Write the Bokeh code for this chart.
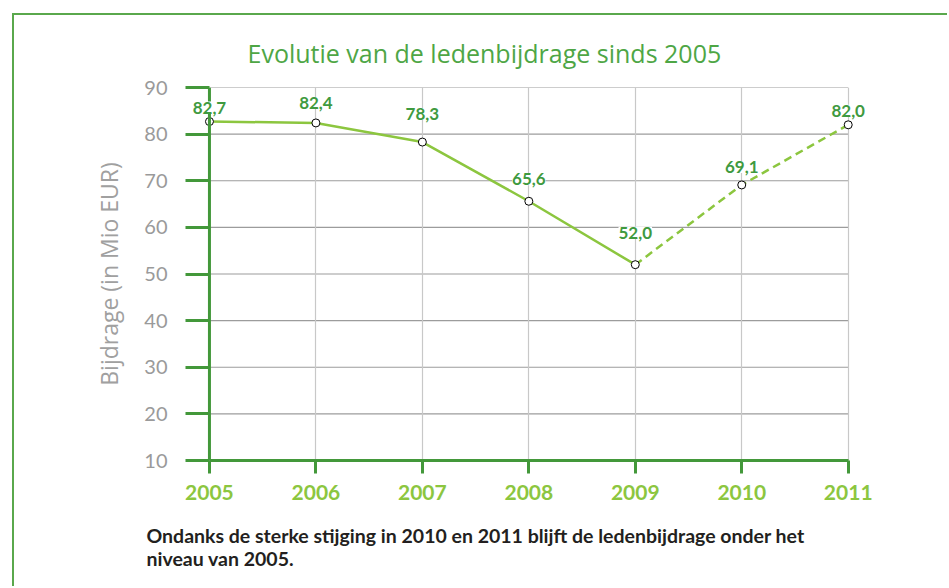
from bokeh.plotting import figure
from bokeh.models import ColumnDataSource, LabelSet, Title, FixedTicker, Span, InlineStyleSheet
from bokeh.core.properties import value
from bokeh.embed import file_html
from bokeh.resources import INLINE

# ---- data ----
years = [2005, 2006, 2007, 2008, 2009, 2010, 2011]
bijdrage = [82.7, 82.4, 78.3, 65.6, 52.0, 69.1, 82.0]
labels = [f"{v:.1f}".replace(".", ",") for v in bijdrage]
y_ticks = [10, 20, 30, 40, 50, 60, 70, 80, 90]
title_text = "Evolutie van de ledenbijdrage sinds 2005"
y_label = "Bijdrage (in Mio EUR)"
caption_lines = ["Ondanks de sterke stijging in 2010 en 2011 blijft de ledenbijdrage onder het",
                 "niveau van 2005."]

# styling (pixel offsets of the value labels)
label_offsets = [14, 20, 28, 22, 32, 18, 14]

DARK_GREEN = "#43983a"
LIGHT_GREEN = "#8cc63f"
LABEL_GREEN = "#3f9a3f"
GREY = "#9a9a9a"
FRAME_GREEN = "#5aa84c"

x0, x1 = years[0], years[-1]
pad_l, pad_r = 0.225, 0.2

p = figure(width=935, height=573, output_backend="svg", toolbar_location=None,
           x_range=(x0 - pad_l, x1 + pad_r), y_range=(y_ticks[0], y_ticks[-1]),
           min_border_left=171, min_border_right=80,
           min_border_top=72, min_border_bottom=127)
p.outline_line_color = None
p.background_fill_color = "white"
p.border_fill_color = "white"
p.stylesheets = [InlineStyleSheet(
    css=f":host {{ margin-left: 14px; margin-top: 15px; box-shadow: -2px -2px 0 0 {FRAME_GREEN}; }}")]

# title
p.title.text = title_text
p.title.text_font = "Open Sans"
p.title.text_font_style = "normal"
p.title.text_font_size = "25px"
p.title.text_color = "#4ea645"
p.title.align = "left"
p.title.offset = 62
p.title.standoff = 35

# x axis
xa = p.xaxis[0]
xa.ticker = FixedTicker(ticks=years)
xa.bounds = (x0, x1)
xa.axis_line_color = DARK_GREEN
xa.axis_line_width = 3
xa.major_tick_line_color = DARK_GREEN
xa.major_tick_line_width = 3
xa.major_tick_out = 13
xa.major_tick_in = 0
xa.minor_tick_line_color = None
xa.major_label_text_color = LIGHT_GREEN
xa.major_label_text_font = "Lato"
xa.major_label_text_font_style = "bold"
xa.major_label_text_font_size = "21px"
xa.major_label_standoff = 11

# y axis (ticks reach from the frame edge to the first year)
ya = p.yaxis[0]
ya.ticker = FixedTicker(ticks=y_ticks)
ya.axis_line_color = None
ya.major_tick_line_color = DARK_GREEN
ya.major_tick_line_width = 3
ya.major_tick_out = 0
ya.major_tick_in = 24
ya.minor_tick_line_color = None
ya.major_label_text_color = GREY
ya.major_label_text_font = "Lato"
ya.major_label_text_font_size = "20px"
ya.major_label_standoff = 18
ya.axis_label = y_label
ya.axis_label_text_color = "#a0a0a0"
ya.axis_label_text_font = "Open Sans"
ya.axis_label_text_font_style = "normal"
ya.axis_label_text_font_size = "23px"
ya.axis_label_standoff = 16

p.add_layout(Span(location=x0, dimension="height", line_color=DARK_GREEN, line_width=3))

# grids
p.xgrid.ticker = FixedTicker(ticks=years[1:])
p.xgrid.grid_line_color = "#c8c8c8"
p.xgrid.grid_line_width = 1.2
p.ygrid.visible = False
hy = y_ticks[1:]
p.segment(x0=[x0] * len(hy), y0=hy, x1=[x1] * len(hy), y1=hy,
          line_color="#9c9c9c", line_width=1.2, level="underlay")

# lines: solid up to 2009, dashed after
p.line(years[:5], bijdrage[:5], line_color=LIGHT_GREEN, line_width=2.5)
p.line(years[4:], bijdrage[4:], line_color=LIGHT_GREEN, line_width=2.5, line_dash="8 5")

src = ColumnDataSource(dict(x=years, y=bijdrage, t=labels, off=label_offsets))
p.scatter("x", "y", source=src, size=8, fill_color="white", line_color="black", line_width=1)

ls = LabelSet(x="x", y="y", text="t", source=src, y_offset="off",
              text_align="center", text_baseline="middle",
              text_font=value("Lato"), text_font_style="bold", text_font_size="17px",
              text_color=LABEL_GREEN, background_fill_color="white")
p.add_layout(ls)

# caption below the chart
cap = Title(text="\n".join(caption_lines), align="left", offset=-39, standoff=38,
            text_font="Lato", text_font_style="bold", text_font_size="19.5px",
            text_color="#231f20")
p.add_layout(cap, "below")

open("out.html", "w").write(file_html(p, INLINE))
